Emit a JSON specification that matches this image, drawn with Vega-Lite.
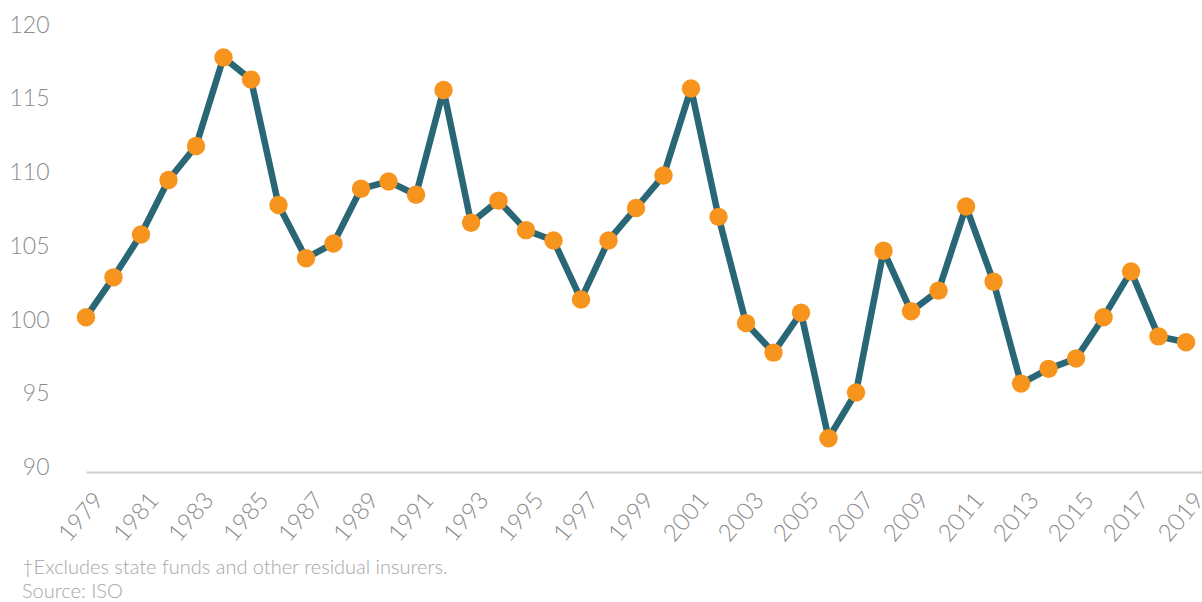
{
  "$schema": "https://vega.github.io/schema/vega-lite/v6.json",
  "width": 1116,
  "height": 447,
  "autosize": {"type": "none"},
  "padding": {"left": 86, "top": 25, "right": 0, "bottom": 130},
  "background": "white",
  "config": {"view": {"stroke": null}, "font": "Lato"},
  "title": {
    "text": ["†Excludes state funds and other residual insurers.", "Source: ISO"],
    "orient": "bottom",
    "anchor": "start",
    "frame": "group",
    "dx": -64,
    "offset": 12,
    "font": "Lato",
    "fontSize": 20,
    "fontWeight": 300,
    "color": "#a6a6a6",
    "lineHeight": 24
  },
  "data": {
    "values": [
      {"year": 1979, "value": 100.2},
      {"year": 1980, "value": 102.9},
      {"year": 1981, "value": 105.8},
      {"year": 1982, "value": 109.5},
      {"year": 1983, "value": 111.8},
      {"year": 1984, "value": 117.8},
      {"year": 1985, "value": 116.3},
      {"year": 1986, "value": 107.8},
      {"year": 1987, "value": 104.2},
      {"year": 1988, "value": 105.2},
      {"year": 1989, "value": 108.9},
      {"year": 1990, "value": 109.4},
      {"year": 1991, "value": 108.5},
      {"year": 1992, "value": 115.6},
      {"year": 1993, "value": 106.6},
      {"year": 1994, "value": 108.1},
      {"year": 1995, "value": 106.1},
      {"year": 1996, "value": 105.4},
      {"year": 1997, "value": 101.4},
      {"year": 1998, "value": 105.4},
      {"year": 1999, "value": 107.6},
      {"year": 2000, "value": 109.8},
      {"year": 2001, "value": 115.7},
      {"year": 2002, "value": 107.0},
      {"year": 2003, "value": 99.8},
      {"year": 2004, "value": 97.8},
      {"year": 2005, "value": 100.5},
      {"year": 2006, "value": 92.0},
      {"year": 2007, "value": 95.1},
      {"year": 2008, "value": 104.7},
      {"year": 2009, "value": 100.6},
      {"year": 2010, "value": 102.0},
      {"year": 2011, "value": 107.7},
      {"year": 2012, "value": 102.6},
      {"year": 2013, "value": 95.7},
      {"year": 2014, "value": 96.7},
      {"year": 2015, "value": 97.4},
      {"year": 2016, "value": 100.2},
      {"year": 2017, "value": 103.3},
      {"year": 2018, "value": 98.9},
      {"year": 2019, "value": 98.5}
    ]
  },
  "encoding": {
    "x": {
      "field": "year",
      "type": "quantitative",
      "scale": {"domain": [1979, 2019.58], "nice": false, "zero": false},
      "axis": {
        "title": null,
        "values": [1979, 1981, 1983, 1985, 1987, 1989, 1991, 1993, 1995, 1997, 1999, 2001, 2003, 2005, 2007, 2009, 2011, 2013, 2015, 2017, 2019],
        "format": "d",
        "labelAngle": -50,
        "labelAlign": "right",
        "labelBaseline": "top",
        "labelOffset": 4,
        "labelFontSize": 24,
        "labelFont": "Lato",
        "labelFontWeight": 300,
        "labelColor": "#8c8c8c",
        "labelPadding": 16,
        "ticks": false,
        "grid": false,
        "domainColor": "#cfcfcf",
        "domainWidth": 2,
        "labelOverlap": false,
        "labelBound": false,
        "labelFlush": false
      }
    },
    "y": {
      "field": "value",
      "type": "quantitative",
      "scale": {"domain": [89.71, 120], "nice": false, "zero": false},
      "axis": {
        "title": null,
        "values": [90, 95, 100, 105, 110, 115, 120],
        "labelFontSize": 23,
        "labelFont": "Lato",
        "labelFontWeight": 300,
        "labelColor": "#8c8c8c",
        "labelPadding": 37,
        "ticks": false,
        "grid": false,
        "domain": false,
        "labelOverlap": false
      }
    }
  },
  "layer": [
    {"mark": {"type": "line", "color": "#2a6776", "strokeWidth": 6.5, "strokeJoin": "round"}},
    {"mark": {"type": "point", "filled": true, "color": "#f7941d", "opacity": 1, "size": 340}}
  ]
}
